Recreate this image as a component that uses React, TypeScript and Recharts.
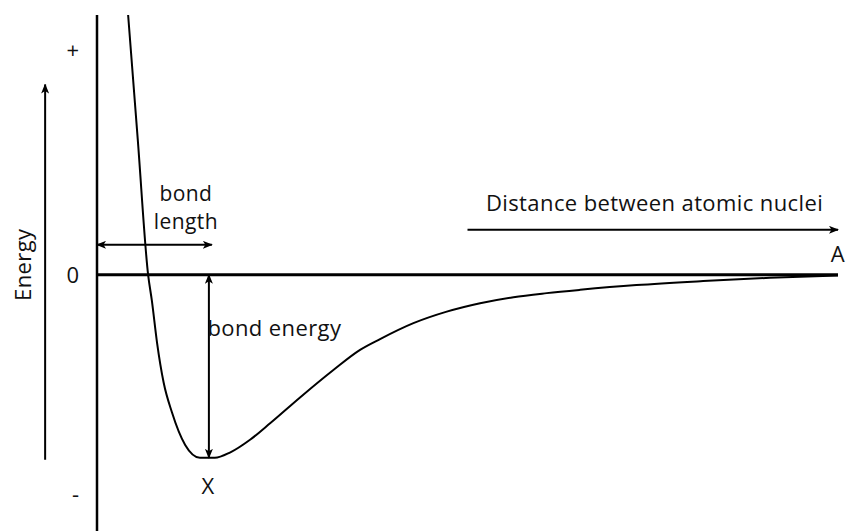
import React from 'react';
import { LineChart, Line, XAxis, YAxis, ReferenceLine, ReferenceDot } from 'recharts';

// distance between nuclei (arbitrary units) and potential energy (bond energy = 1)
const distance = [0.42, 0.55, 0.69, 0.74, 0.81, 0.9, 1.01, 1.19, 1.39, 1.59, 1.8, 2.07, 2.34, 2.74, 3.19, 3.55, 3.82, 4.27, 4.72, 5.17, 5.62, 6.07, 6.52, 7.28, 8.18, 9.08, 10];
const energy = [1.42, 0.74, 0, -0.14, -0.37, -0.59, -0.75, -0.93, -1.0, -1.0, -0.97, -0.9, -0.81, -0.67, -0.52, -0.41, -0.351, -0.264, -0.201, -0.155, -0.122, -0.1, -0.082, -0.056, -0.034, -0.016, -0.003];
const energyTicks = [-1.2, 0, 1.23];
const energyTickLabels = ['-', '0', '+'];

const bondLength = 1.55;
const bondEnergy = -1.0;

const data = distance.map((d, i) => ({ d, e: energy[i] }));

const FONT = '"Open Sans", "DejaVu Sans", sans-serif';
const SIZE = 22;

const arrowShape = (start: boolean, end: boolean) => (props: any) => {
  const { x1, y1, x2, y2 } = props;
  return (
    <line
      x1={x1}
      y1={y1}
      x2={x2}
      y2={y2}
      stroke="#000"
      strokeWidth={2}
      markerStart={start ? 'url(#head)' : undefined}
      markerEnd={end ? 'url(#head)' : undefined}
    />
  );
};

const textLabel = (text: string, anchor: string, size = SIZE, rotate = false) => (props: any) => {
  const { x, y } = props.viewBox;
  return (
    <text
      x={x}
      y={y}
      textAnchor={anchor}
      dominantBaseline="central"
      fontFamily={FONT}
      fontSize={size}
      letterSpacing={0.4}
      fill="#111"
      transform={rotate ? `rotate(-90, ${x}, ${y})` : undefined}
    >
      {text}
    </text>
  );
};

const App: React.FC = () => {
  return (
    <div style={styles.wrap}>
      <LineChart width={848} height={531} data={data} margin={{ top: 15, right: 10, bottom: 0, left: 0 }}>
        <defs>
          <marker id="head" viewBox="0 0 10 8" refX="9" refY="4" markerWidth="10" markerHeight="8" markerUnits="userSpaceOnUse" orient="auto-start-reverse">
            <path d="M0,0 L10,4 L0,8 L2.5,4 z" fill="#000" />
          </marker>
        </defs>
        <XAxis dataKey="d" type="number" domain={[0, 10]} hide />
        <YAxis
          type="number"
          domain={[-1.4, 1.42]}
          ticks={energyTicks}
          tickFormatter={(v: number) => energyTickLabels[energyTicks.indexOf(v)]}
          width={97}
          tickLine={false}
          tickMargin={12}
          axisLine={{ stroke: '#000', strokeWidth: 2.5 }}
          tick={{ fill: '#111', fontSize: SIZE, fontFamily: FONT }}
          allowDataOverflow
        />
        <ReferenceLine y={0} stroke="#000" strokeWidth={3} />
        <Line dataKey="e" type="monotone" stroke="#000" strokeWidth={2} dot={false} isAnimationActive={false} />

        {/* bond length */}
        <ReferenceLine segment={[{ x: 0, y: 0.164 }, { x: bondLength, y: 0.164 }]} shape={arrowShape(true, true)} ifOverflow="visible" />
        <ReferenceDot x={1.2} y={0.447} r={0} stroke="none" fill="none" ifOverflow="visible" label={textLabel('bond', 'middle', 21)} />
        <ReferenceDot x={1.2} y={0.295} r={0} stroke="none" fill="none" ifOverflow="visible" label={textLabel('length', 'middle', 21)} />

        {/* bond energy */}
        <ReferenceLine segment={[{ x: 1.51, y: 0 }, { x: 1.51, y: bondEnergy }]} shape={arrowShape(true, true)} ifOverflow="visible" />
        <ReferenceDot x={1.49} y={-0.285} r={0} stroke="none" fill="none" ifOverflow="visible" label={textLabel('bond energy', 'start')} />
        <ReferenceDot x={1.5} y={-1.15} r={0} stroke="none" fill="none" ifOverflow="visible" label={textLabel('X', 'middle')} />

        {/* distance axis */}
        <ReferenceLine segment={[{ x: 5.0, y: 0.246 }, { x: 10, y: 0.246 }]} shape={arrowShape(false, true)} ifOverflow="visible" />
        <ReferenceDot x={9.8} y={0.4} r={0} stroke="none" fill="none" ifOverflow="visible" label={textLabel('Distance between atomic nuclei', 'end')} />
        <ReferenceDot x={10} y={0.12} r={0} stroke="none" fill="none" ifOverflow="visible" label={textLabel('A', 'middle')} />

        {/* energy direction */}
        <ReferenceLine segment={[{ x: -0.7, y: -1.01 }, { x: -0.7, y: 1.04 }]} shape={arrowShape(false, true)} ifOverflow="visible" />
        <ReferenceDot x={-1.01} y={0.055} r={0} stroke="none" fill="none" ifOverflow="visible" label={textLabel('Energy', 'middle', SIZE, true)} />
      </LineChart>
    </div>
  );
};

const styles = {
  wrap: {
    position: 'absolute' as const,
    left: 0,
    top: 0,
    width: 848,
    height: 531,
    background: 'white'
  }
};

export default App;
